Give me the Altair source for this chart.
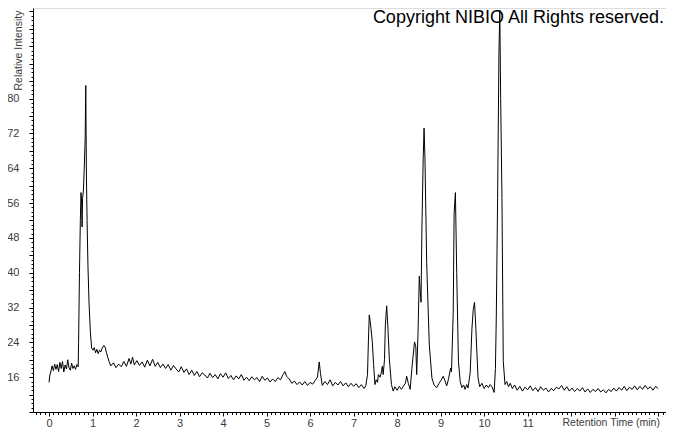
import altair as alt
import pandas as pd

# ---- data ----
times = [
    0.00, 0.02, 0.04, 0.07, 0.10, 0.13, 0.16, 0.19, 0.22, 0.25, 0.28, 0.31, 0.34, 0.37, 0.40,
    0.43, 0.46, 0.49, 0.52, 0.55, 0.58, 0.61, 0.64, 0.67,
    0.68, 0.70, 0.72, 0.735, 0.75, 0.76, 0.77, 0.79, 0.81, 0.83, 0.845, 0.86, 0.875, 0.895,
    0.92, 0.95, 0.98, 1.01, 1.04, 1.07, 1.10, 1.13, 1.16, 1.19, 1.22, 1.26, 1.29, 1.32, 1.35, 1.38,
    1.42, 1.48, 1.54, 1.60, 1.66, 1.72, 1.78, 1.84, 1.88, 1.92, 1.96, 2.02, 2.08, 2.14, 2.20,
    2.26, 2.32, 2.38, 2.44, 2.50, 2.56, 2.62, 2.68, 2.74, 2.80, 2.86, 2.92, 2.98, 3.04, 3.10,
    3.16, 3.22, 3.28, 3.34, 3.40, 3.46, 3.52, 3.58, 3.64, 3.70, 3.76, 3.82, 3.88, 3.94, 4.00,
    4.06, 4.12, 4.18, 4.24, 4.30, 4.36, 4.42, 4.48, 4.54, 4.60, 4.66, 4.72, 4.78, 4.84, 4.90,
    4.96, 5.02, 5.08, 5.14, 5.20, 5.26, 5.32, 5.38, 5.42, 5.46, 5.52, 5.58, 5.64, 5.70, 5.76,
    5.82, 5.88, 5.94, 6.00, 6.06, 6.12, 6.17, 6.21, 6.24, 6.28, 6.34, 6.40, 6.46, 6.52, 6.58,
    6.64, 6.70, 6.76, 6.82, 6.88, 6.94, 7.00, 7.06, 7.12, 7.18, 7.24, 7.28,
    7.32, 7.34, 7.36, 7.38, 7.40, 7.43, 7.46, 7.49, 7.52, 7.55, 7.57, 7.61, 7.64, 7.66, 7.68,
    7.71, 7.73, 7.76, 7.79, 7.82, 7.87, 7.91, 7.95, 8.00, 8.05, 8.10, 8.15, 8.19, 8.22, 8.26,
    8.30, 8.34, 8.40, 8.43, 8.45, 8.48, 8.51, 8.53, 8.55, 8.57, 8.60, 8.62, 8.64, 8.68, 8.74,
    8.80, 8.85, 8.91, 8.96, 9.01, 9.06, 9.10, 9.14, 9.18, 9.23, 9.25, 9.29, 9.31, 9.34, 9.37,
    9.41, 9.45, 9.49, 9.53, 9.56, 9.60, 9.63, 9.68, 9.72, 9.75, 9.78, 9.81, 9.86, 9.90, 9.95,
    10.00, 10.05, 10.10, 10.14, 10.18, 10.23, 10.26, 10.28, 10.31, 10.34, 10.36, 10.38, 10.41,
    10.44, 10.48,
    10.52, 10.56, 10.60, 10.65, 10.70, 10.76, 10.82, 10.88, 10.94, 11.00, 11.06, 11.12, 11.18,
    11.24, 11.30, 11.36, 11.42, 11.48, 11.54, 11.60, 11.66, 11.72, 11.78, 11.84, 11.90, 11.96,
    12.02, 12.08, 12.14, 12.20, 12.26, 12.32, 12.38, 12.44, 12.50, 12.56, 12.62, 12.68, 12.74,
    12.80, 12.86, 12.92, 12.98, 13.04, 13.10, 13.16, 13.22, 13.28, 13.34, 13.40, 13.46, 13.52,
    13.58, 13.64, 13.70, 13.76, 13.82, 13.88, 13.94, 14.00,
]
intensity = [
    14.8, 16.5, 17.2, 18.6, 17.5, 19.0, 17.8, 18.9, 17.3, 19.4, 18.0, 19.6, 17.2, 18.8, 17.9,
    20.0, 18.1, 17.6, 19.2, 18.0, 18.6, 17.8, 18.9, 18.4,
    24.0, 40.0, 52.0, 58.4, 56.0, 50.5, 57.0, 58.8, 64.0, 70.5, 83.0, 62.0, 52.0, 41.5,
    33.0, 26.4, 22.7, 22.2, 22.8, 21.6, 22.4, 21.4, 22.2, 21.8, 22.6, 23.3, 22.9, 21.6, 20.6, 19.6,
    18.6, 19.3, 18.2, 19.0, 18.4, 19.6, 18.5, 20.3, 19.0, 20.6, 18.8, 19.8, 18.7, 19.5, 18.3,
    19.9, 18.6, 20.1, 18.5, 19.4, 18.2, 19.0, 18.0, 18.9, 17.6, 18.7, 17.9, 17.2, 18.4, 17.1,
    17.9, 16.6, 17.6, 16.4, 17.3, 16.1, 17.0, 16.5, 15.8, 16.9, 15.9, 16.6, 15.6, 16.8, 16.0,
    17.0, 15.7, 16.4, 15.4, 16.3, 15.6, 16.6, 15.3, 16.0, 15.2, 16.1, 15.4, 15.9, 15.0, 16.2,
    15.3, 15.8, 14.9, 15.6, 15.0, 15.9, 15.4, 16.6, 17.3, 16.2, 15.6, 14.6, 15.1, 14.3, 14.9,
    14.2, 15.0, 14.1, 14.8, 14.4, 15.3, 16.0, 19.5, 16.8, 14.1, 15.0, 14.3, 15.4, 14.0, 14.8,
    14.2, 15.0, 14.0, 14.7, 13.8, 14.6, 13.9, 14.5, 13.6, 14.3, 13.4, 14.0,
    16.6, 24.1, 30.3, 29.0, 27.2, 24.1, 18.9, 14.3, 15.4, 14.8, 16.6, 16.0, 17.2, 18.5, 16.6,
    20.0, 27.9, 32.4, 27.2, 20.4, 14.3, 12.8, 13.8, 13.0, 13.9, 13.2, 14.0, 14.6, 16.2, 14.5,
    13.2, 18.0, 24.1, 23.0, 16.6, 26.0, 39.2, 36.0, 33.2, 50.0, 66.4, 73.2, 66.4, 42.2, 23.4,
    15.8, 14.2, 13.6, 14.5, 15.3, 16.2, 15.2, 14.0, 15.5, 18.1, 17.2, 30.9, 53.5, 58.4, 40.0,
    19.6, 15.0, 13.6, 14.2, 13.2, 14.3, 13.5, 17.0, 27.2, 31.5, 33.2, 27.2, 15.8, 13.8, 14.6,
    13.4, 14.2, 13.6, 14.3, 13.8, 12.5, 18.0, 30.0, 57.3, 90.0, 100.3, 80.0, 57.3,
    19.6, 14.3,
    15.0, 13.8, 14.6, 13.4, 14.2, 13.0, 13.9, 12.8, 13.7, 13.1, 14.0, 12.9, 13.6,
    12.7, 13.8, 13.0, 13.5, 12.6, 13.4, 12.9, 13.7, 13.3, 14.1, 13.0, 13.8, 12.8,
    13.5, 12.7, 13.4, 12.8, 13.6, 12.6, 13.3, 12.5, 13.2, 12.7, 13.4, 12.6, 13.1,
    12.4, 13.2, 12.7, 13.5, 12.8, 13.6, 13.0, 13.9, 12.9, 13.7, 13.2, 14.0, 13.1,
    13.9, 13.2, 14.1, 13.3, 13.8, 13.0, 13.9, 13.4,
]

x_label_ticks = [0, 1, 2, 3, 4, 5, 6, 7, 8, 9, 10, 11]
x_major_ticks = list(range(0, 15))
x_minor_ticks = [round(-0.3 + 0.1 * i, 1) for i in range(0, 145)]
y_label_ticks = [16, 24, 32, 40, 48, 56, 64, 72, 80]
y_major_ticks = list(range(8, 101, 4))
y_minor_ticks = list(range(8, 101, 1))

x_title = "Retention Time (min)"
y_title = "Relative Intensity"
copyright_text = "Copyright NIBIO All Rights reserved."

df = pd.DataFrame({"t": times, "v": intensity})

FONT = "Liberation Sans"
LABEL_COLOR = "#3c3c3c"
W, H = 633, 404
x_scale = alt.Scale(domain=[-0.368, 14.18], nice=False, zero=False)
y_scale = alt.Scale(domain=[8, 100.8], nice=False, zero=False)

lbl_x = "indexof([" + ",".join(str(v) for v in x_label_ticks) + "], datum.value) >= 0 ? datum.label : ''"
lbl_y = "indexof([" + ",".join(str(v) for v in y_label_ticks) + "], datum.value) >= 0 ? datum.label : ''"

line = alt.Chart(df).mark_line(color="black", strokeWidth=1, clip=True).encode(
    x=alt.X("t:Q", scale=x_scale,
            axis=alt.Axis(orient="bottom", values=x_major_ticks, labelExpr=lbl_x,
                          tickSize=4, tickColor="black", domainColor="black",
                          labelFont=FONT, labelFontSize=11, labelColor=LABEL_COLOR,
                          labelPadding=1, grid=False, labelFlush=False,
                          title=x_title, titleFont=FONT, titleFontSize=10.5,
                          titleFontWeight="normal", titleColor=LABEL_COLOR,
                          titleX=529, titleY=10, titleAlign="left",
                          titleBaseline="middle", titleAnchor="start")),
    y=alt.Y("v:Q", scale=y_scale,
            axis=alt.Axis(orient="left", values=y_major_ticks, labelExpr=lbl_y,
                          tickSize=4, tickColor="black", domainColor="black",
                          labelFont=FONT, labelFontSize=11, labelColor=LABEL_COLOR,
                          labelPadding=10, grid=False, labelFlush=False,
                          title=y_title, titleFont=FONT, titleFontSize=10.5,
                          titleFontWeight="normal", titleColor=LABEL_COLOR,
                          titleAngle=270, titleX=-15, titleY=82, titleAlign="left",
                          titleBaseline="middle", titleAnchor="start")),
)

minor = alt.Chart(df).mark_line(opacity=0).encode(
    x=alt.X("t:Q", scale=x_scale,
            axis=alt.Axis(orient="bottom", values=x_minor_ticks, labels=False, domain=False,
                          tickSize=2.5, tickColor="black", grid=False, title=None)),
    y=alt.Y("v:Q", scale=y_scale,
            axis=alt.Axis(orient="left", values=y_minor_ticks, labels=False, domain=False,
                          tickSize=2, tickColor="black", grid=False, title=None)),
)

note = alt.Chart(pd.DataFrame({"label": [copyright_text]})).mark_text(
    font=FONT, fontSize=18, color="black", align="right", baseline="alphabetic"
).encode(x=alt.value(631), y=alt.value(14.5), text="label:N")

chart = (
    alt.layer(line, minor, note)
    .resolve_axis(x="independent", y="independent")
    .properties(width=W, height=H, autosize=alt.AutoSizeParams(type="none"),
                padding={"left": 25, "top": 0, "right": 0, "bottom": 18})
    .configure_view(stroke=None)
    .configure(background="white")
)

chart.save("out.html", embed_options={"renderer": "svg", "actions": False})
